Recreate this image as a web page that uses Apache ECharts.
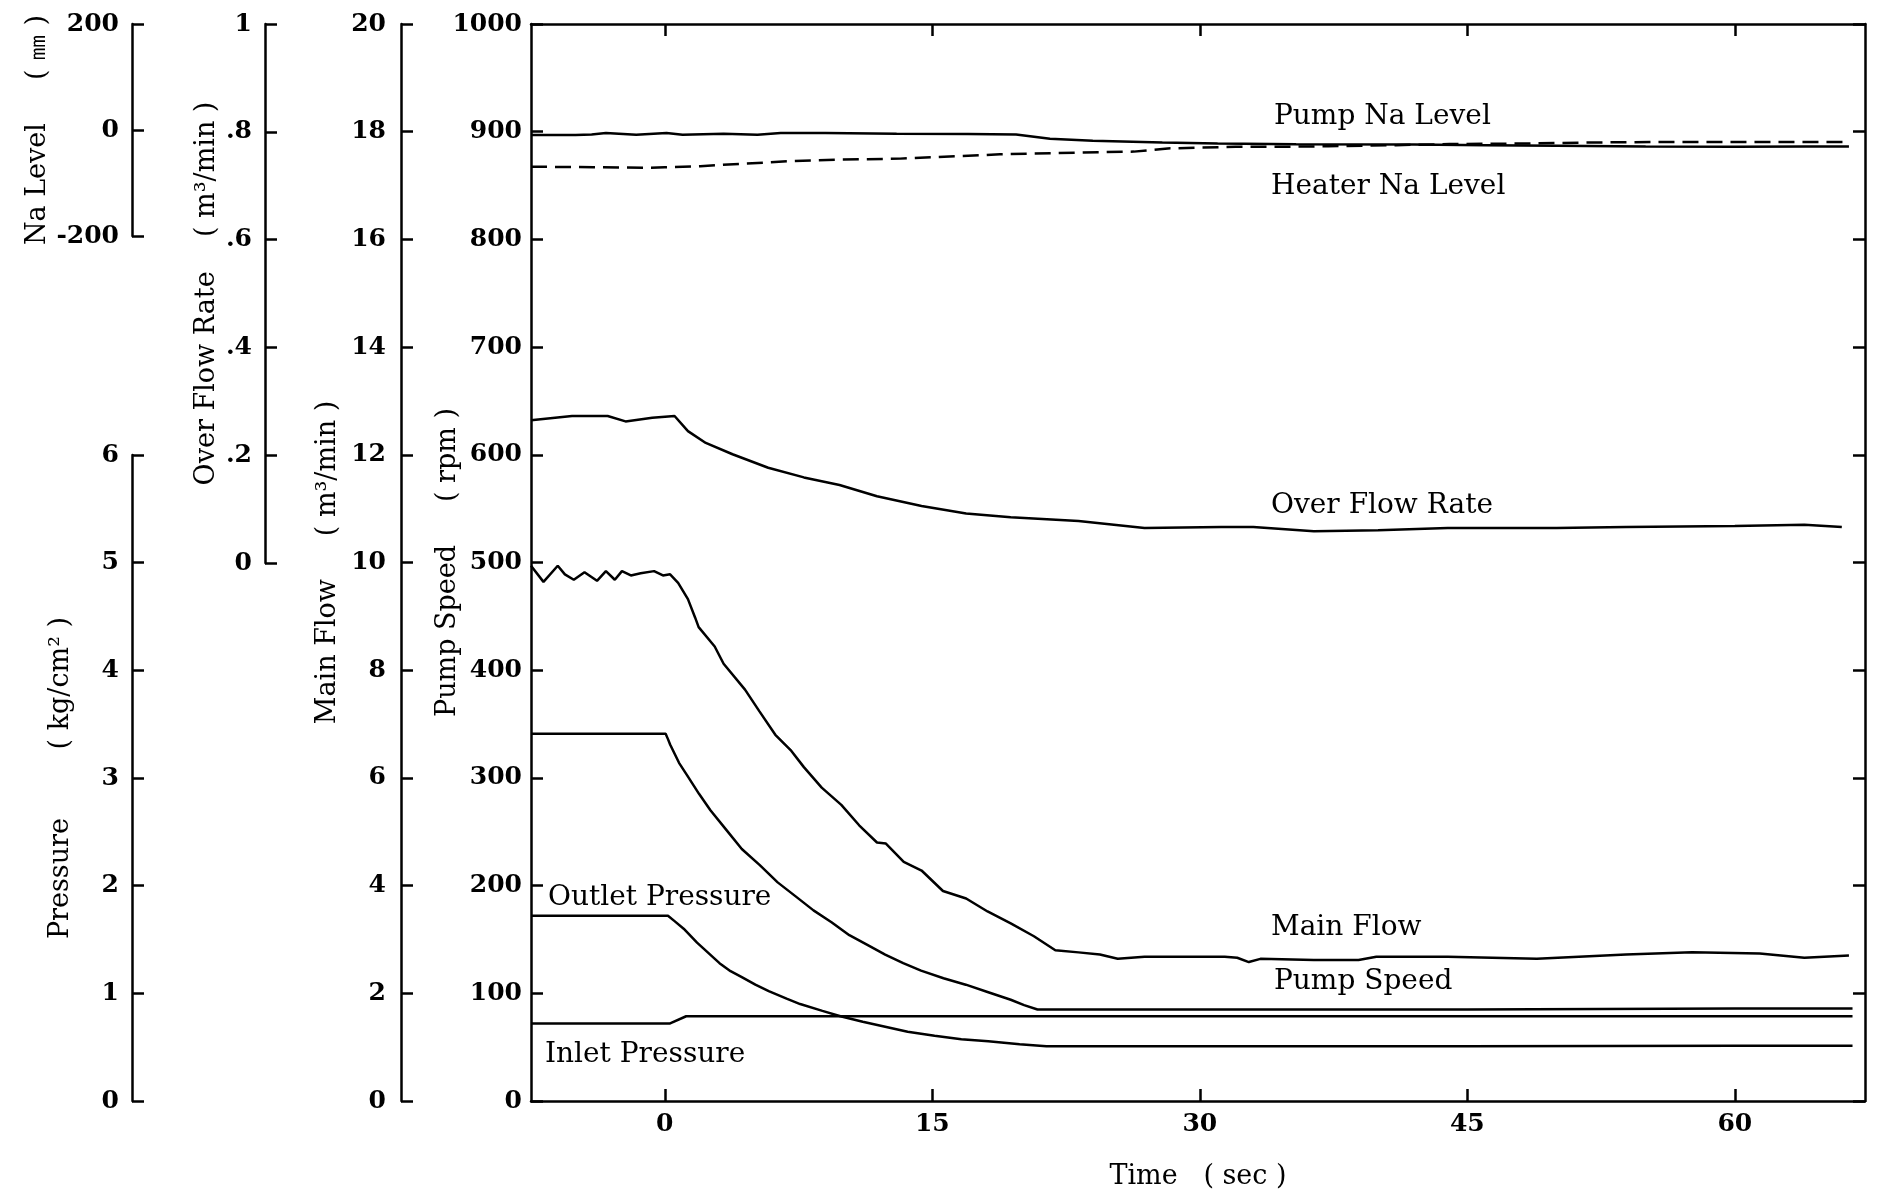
<!DOCTYPE html>
<html>
<head>
<meta charset="utf-8">
<title>Pump coast-down transient</title>
<script src="https://cdn.jsdelivr.net/npm/echarts@6/dist/echarts.min.js"></script>
<style>
html, body { margin: 0; padding: 0; background: #fff; }
#main { width: 1877px; height: 1192px; }
</style>
</head>
<body>
<div id="main"></div>
<script>
// time (sec) and values
var pumpNaT = [-7.5, -5, -4.1, -3.3, -1.6, 0.1, 1, 3.3, 5.2, 6.5, 9, 13, 17, 19.7, 21.6, 24, 27.9, 31, 35.4, 42, 46, 50, 55, 60, 64, 66.4];
var pumpNaV = [-6, -6, -5, -2.5, -5.5, -2.5, -5.5, -4, -5.5, -2.5, -2.5, -4, -4.5, -5, -13, -17, -20, -22, -23.5, -24, -25, -26, -27.5, -28, -27.5, -27.5]; // mm

var heaterNaT = [-7.5, -4, -1, 0, 2, 4.6, 6.9, 9.7, 13.2, 18.8, 23, 26.3, 28.2, 32, 34.8, 37.2, 41, 44, 48, 52, 56, 60, 64, 66.4];
var heaterNaV = [-65, -66, -67, -66, -64, -59, -55, -52, -50, -42, -39, -37, -31, -28, -28, -27, -25, -23, -22, -20, -19, -19, -19, -19]; // mm

var overFlowT = [-7.5, -5.2, -3.2, -2.2, -0.7, 0.55, 1.3, 2.3, 3.8, 5.8, 7.8, 9.8, 11.9, 14.4, 16.9, 19.4, 23.2, 26.9, 31.2, 33, 36.4, 40, 43.9, 50, 53.9, 60, 63.9, 66];
var overFlowV = [0.264, 0.272, 0.272, 0.262, 0.269, 0.272, 0.244, 0.222, 0.201, 0.176, 0.158, 0.144, 0.123, 0.105, 0.091, 0.084, 0.077, 0.064, 0.066, 0.066, 0.058, 0.060, 0.064, 0.064, 0.066, 0.068, 0.070, 0.066]; // m3/min

var mainFlowT = [-7.5, -6.8, -6.0, -5.6, -5.1, -4.5, -3.8, -3.3, -2.8, -2.4, -1.9, -1.35, -0.6, -0.1, 0.3, 0.75, 1.3, 1.7, 1.9, 2.8, 3.3, 4.5, 5.3, 6.2, 7.1, 7.8, 8.8, 9.9, 10.9, 11.9, 12.4, 13.4, 14.4, 15.6, 16.9, 18.1, 19.4, 20.7, 21.9, 23.2, 24.4, 25.4, 26.9, 29, 31.4, 32.1, 32.75, 33.4, 36.4, 38.9, 39.9, 43.9, 48.9, 53.9, 57.6, 61.4, 63.9, 66.4];
var mainFlowV = [9.94, 9.64, 9.94, 9.78, 9.68, 9.82, 9.66, 9.84, 9.68, 9.84, 9.76, 9.8, 9.84, 9.76, 9.78, 9.62, 9.32, 8.98, 8.8, 8.44, 8.12, 7.64, 7.24, 6.8, 6.5, 6.2, 5.82, 5.5, 5.12, 4.8, 4.78, 4.44, 4.28, 3.9, 3.76, 3.52, 3.3, 3.06, 2.8, 2.76, 2.72, 2.64, 2.68, 2.68, 2.68, 2.66, 2.58, 2.64, 2.62, 2.62, 2.68, 2.68, 2.64, 2.72, 2.76, 2.74, 2.66, 2.7]; // m3/min

var pumpSpeedT = [-7.5, 0.05, 0.18, 0.3, 0.8, 1.31, 1.93, 2.56, 3.44, 4.32, 5.33, 6.33, 7.34, 8.34, 9.35, 10.35, 11.36, 12.36, 13.37, 14.37, 15.63, 16.88, 18.14, 19.4, 20.15, 20.9, 30, 45, 60, 66.6];
var pumpSpeedV = [341, 341, 336, 331, 314, 301, 285, 270, 252, 234, 219, 203, 190, 177, 166, 154, 145, 136, 128, 121, 114, 108, 101, 94, 89, 85, 85, 85, 86, 86]; // rpm

var outletT = [-7.5, 0.18, 0.55, 1.06, 1.81, 2.44, 3.07, 3.69, 4.32, 5.08, 5.83, 6.83, 7.59, 8.84, 9.85, 11.1, 12.36, 13.62, 15.13, 16.63, 18.14, 19.9, 21.4, 30, 45, 60, 66.6];
var outletV = [1.72, 1.72, 1.67, 1.6, 1.47, 1.375, 1.28, 1.205, 1.15, 1.08, 1.02, 0.95, 0.9, 0.837, 0.787, 0.736, 0.69, 0.643, 0.605, 0.574, 0.554, 0.527, 0.508, 0.508, 0.508, 0.512, 0.512]; // kg/cm2

var inletT = [-7.5, 0.3, 1.2, 30, 66.6];
var inletV = [0.72, 0.72, 0.787, 0.787, 0.787]; // kg/cm2

// tick labels
var timeTicks = [0, 15, 30, 45, 60];
var rpmTicks = [0, 100, 200, 300, 400, 500, 600, 700, 800, 900, 1000];
var naTicks = [-200, 0, 200];
var pressTicks = [0, 1, 2, 3, 4, 5, 6];
var overTicks = [0, 0.2, 0.4, 0.6, 0.8, 1];
var overLabels = ['0', '.2', '.4', '.6', '.8', '1'];
var flowTicks = [0, 2, 4, 6, 8, 10, 12, 14, 16, 18, 20];

function pairs(t, v) {
	var out = [];
	for (var i = 0; i < t.length; i++) {
		out.push([t[i], v[i]]);
	}
	return out;
}

var serifFont = 'DejaVu Serif';
var lineW = 2.5;

function plainNum(v) {
	return String(v);
}

function visibleY(gridIndex, min, max, ticks, name, nameGap, labelFmt, margin) {
	return {
		type: 'value',
		gridIndex: gridIndex,
		position: 'left',
		min: min,
		max: max,
		splitLine: { show: false },
		axisLine: { show: true, onZero: false, lineStyle: { color: '#000', width: lineW } },
		axisTick: { show: true, inside: true, length: 12, customValues: ticks, lineStyle: { color: '#000', width: lineW } },
		axisLabel: {
			show: true, customValues: ticks, color: '#000', fontFamily: serifFont, fontSize: 25, fontWeight: 'bold',
			margin: margin, formatter: labelFmt || plainNum
		},
		name: name,
		nameLocation: 'middle',
		nameRotate: 90,
		nameGap: nameGap,
		nameMoveOverlap: false,
		nameTextStyle: { color: '#000', fontFamily: serifFont, fontSize: 27 }
	};
}

function hiddenY(min, max) {
	return { type: 'value', gridIndex: 0, min: min, max: max, show: false, splitLine: { show: false } };
}

function lineSeries(name, yIdx, data, dashed) {
	return {
		name: name,
		type: 'line',
		xAxisIndex: 0,
		yAxisIndex: yIdx,
		data: data,
		showSymbol: false,
		symbol: 'none',
		lineStyle: { color: '#000', width: lineW, type: dashed ? [16, 8] : 'solid' },
		silent: true
	};
}

function plotLabel(text, x, y) {
	return {
		type: 'text',
		x: x,
		y: y,
		style: { text: text, fill: '#000', fontFamily: serifFont, fontSize: 28, verticalAlign: 'middle' }
	};
}

var myChart = echarts.init(document.getElementById('main'));
var option = {
	animation: false,
	backgroundColor: '#fff',
	grid: [
		{ left: 531, top: 24, width: 1334, height: 1077, outerBoundsMode: 'none' },
		{ left: 132, top: 24, width: 10, height: 212, outerBoundsMode: 'none' },
		{ left: 132, top: 455, width: 10, height: 646, outerBoundsMode: 'none' },
		{ left: 265, top: 24, width: 10, height: 539, outerBoundsMode: 'none' },
		{ left: 401, top: 24, width: 10, height: 1077, outerBoundsMode: 'none' }
	],
	xAxis: [{
		type: 'value',
		gridIndex: 0,
		position: 'bottom',
		min: -7.5,
		max: 67.3,
		splitLine: { show: false },
		axisLine: { onZero: false, lineStyle: { color: '#000', width: lineW } },
		axisTick: { inside: true, length: 12, customValues: timeTicks, lineStyle: { color: '#000', width: lineW } },
		axisLabel: { customValues: timeTicks, color: '#000', fontFamily: serifFont, fontSize: 25, fontWeight: 'bold', margin: 11 },
		name: 'Time   ( sec )',
		nameLocation: 'middle',
		nameGap: 62,
		nameMoveOverlap: false,
		nameTextStyle: { color: '#000', fontFamily: serifFont, fontSize: 27 }
	}, {
		type: 'value',
		gridIndex: 0,
		position: 'top',
		min: -7.5,
		max: 67.3,
		splitLine: { show: false },
		axisLine: { onZero: false, lineStyle: { color: '#000', width: lineW } },
		axisTick: { inside: true, length: 12, customValues: timeTicks, lineStyle: { color: '#000', width: lineW } },
		axisLabel: { show: false }
	},
		{ type: 'value', gridIndex: 1, show: false },
		{ type: 'value', gridIndex: 2, show: false },
		{ type: 'value', gridIndex: 3, show: false },
		{ type: 'value', gridIndex: 4, show: false }
	],
	yAxis: [
		visibleY(0, 0, 1000, rpmTicks, 'Pump Speed     ( rpm )', 70, null, 9),
		{
			type: 'value',
			gridIndex: 0,
			position: 'right',
			min: 0,
			max: 1000,
			splitLine: { show: false },
			axisLine: { show: true, onZero: false, lineStyle: { color: '#000', width: lineW } },
			axisTick: { show: true, inside: true, length: 12, customValues: rpmTicks, lineStyle: { color: '#000', width: lineW } },
			axisLabel: { show: false }
		},
		hiddenY(-1800, 200), // Na level mm, 0 mm sits on the 900 rpm line
		hiddenY(0, 10), // pressure kg/cm2
		hiddenY(-1, 1), // over flow rate m3/min
		hiddenY(0, 20), // main flow m3/min
		visibleY(1, -200, 200, naTicks, 'Na Level     ( ㎜ )', 81, null, 13),
		visibleY(2, 0, 6, pressTicks, 'Pressure        ( kg/cm² )', 58, null, 13),
		visibleY(3, 0, 1, overTicks, 'Over Flow Rate    ( m³/min )', 45, function (v) {
			var i = overTicks.indexOf(Math.round(v * 10) / 10);
			return i >= 0 ? overLabels[i] : '';
		}, 13),
		visibleY(4, 0, 20, flowTicks, 'Main Flow     ( m³/min )', 60, null, 15)
	],
	series: [
		lineSeries('Pump Na Level', 2, pairs(pumpNaT, pumpNaV), false),
		lineSeries('Heater Na Level', 2, pairs(heaterNaT, heaterNaV), true),
		lineSeries('Over Flow Rate', 4, pairs(overFlowT, overFlowV), false),
		lineSeries('Main Flow', 5, pairs(mainFlowT, mainFlowV), false),
		lineSeries('Pump Speed', 0, pairs(pumpSpeedT, pumpSpeedV), false),
		lineSeries('Outlet Pressure', 3, pairs(outletT, outletV), false),
		lineSeries('Inlet Pressure', 3, pairs(inletT, inletV), false)
	],
	graphic: [
		plotLabel('Pump Na Level', 1274, 117),
		plotLabel('Heater Na Level', 1271, 187),
		plotLabel('Over Flow Rate', 1271, 506),
		plotLabel('Main Flow', 1271, 928),
		plotLabel('Pump Speed', 1274, 982),
		plotLabel('Outlet Pressure', 548, 898),
		plotLabel('Inlet Pressure', 545, 1055)
	]
};
myChart.setOption(option);
</script>
</body>
</html>
